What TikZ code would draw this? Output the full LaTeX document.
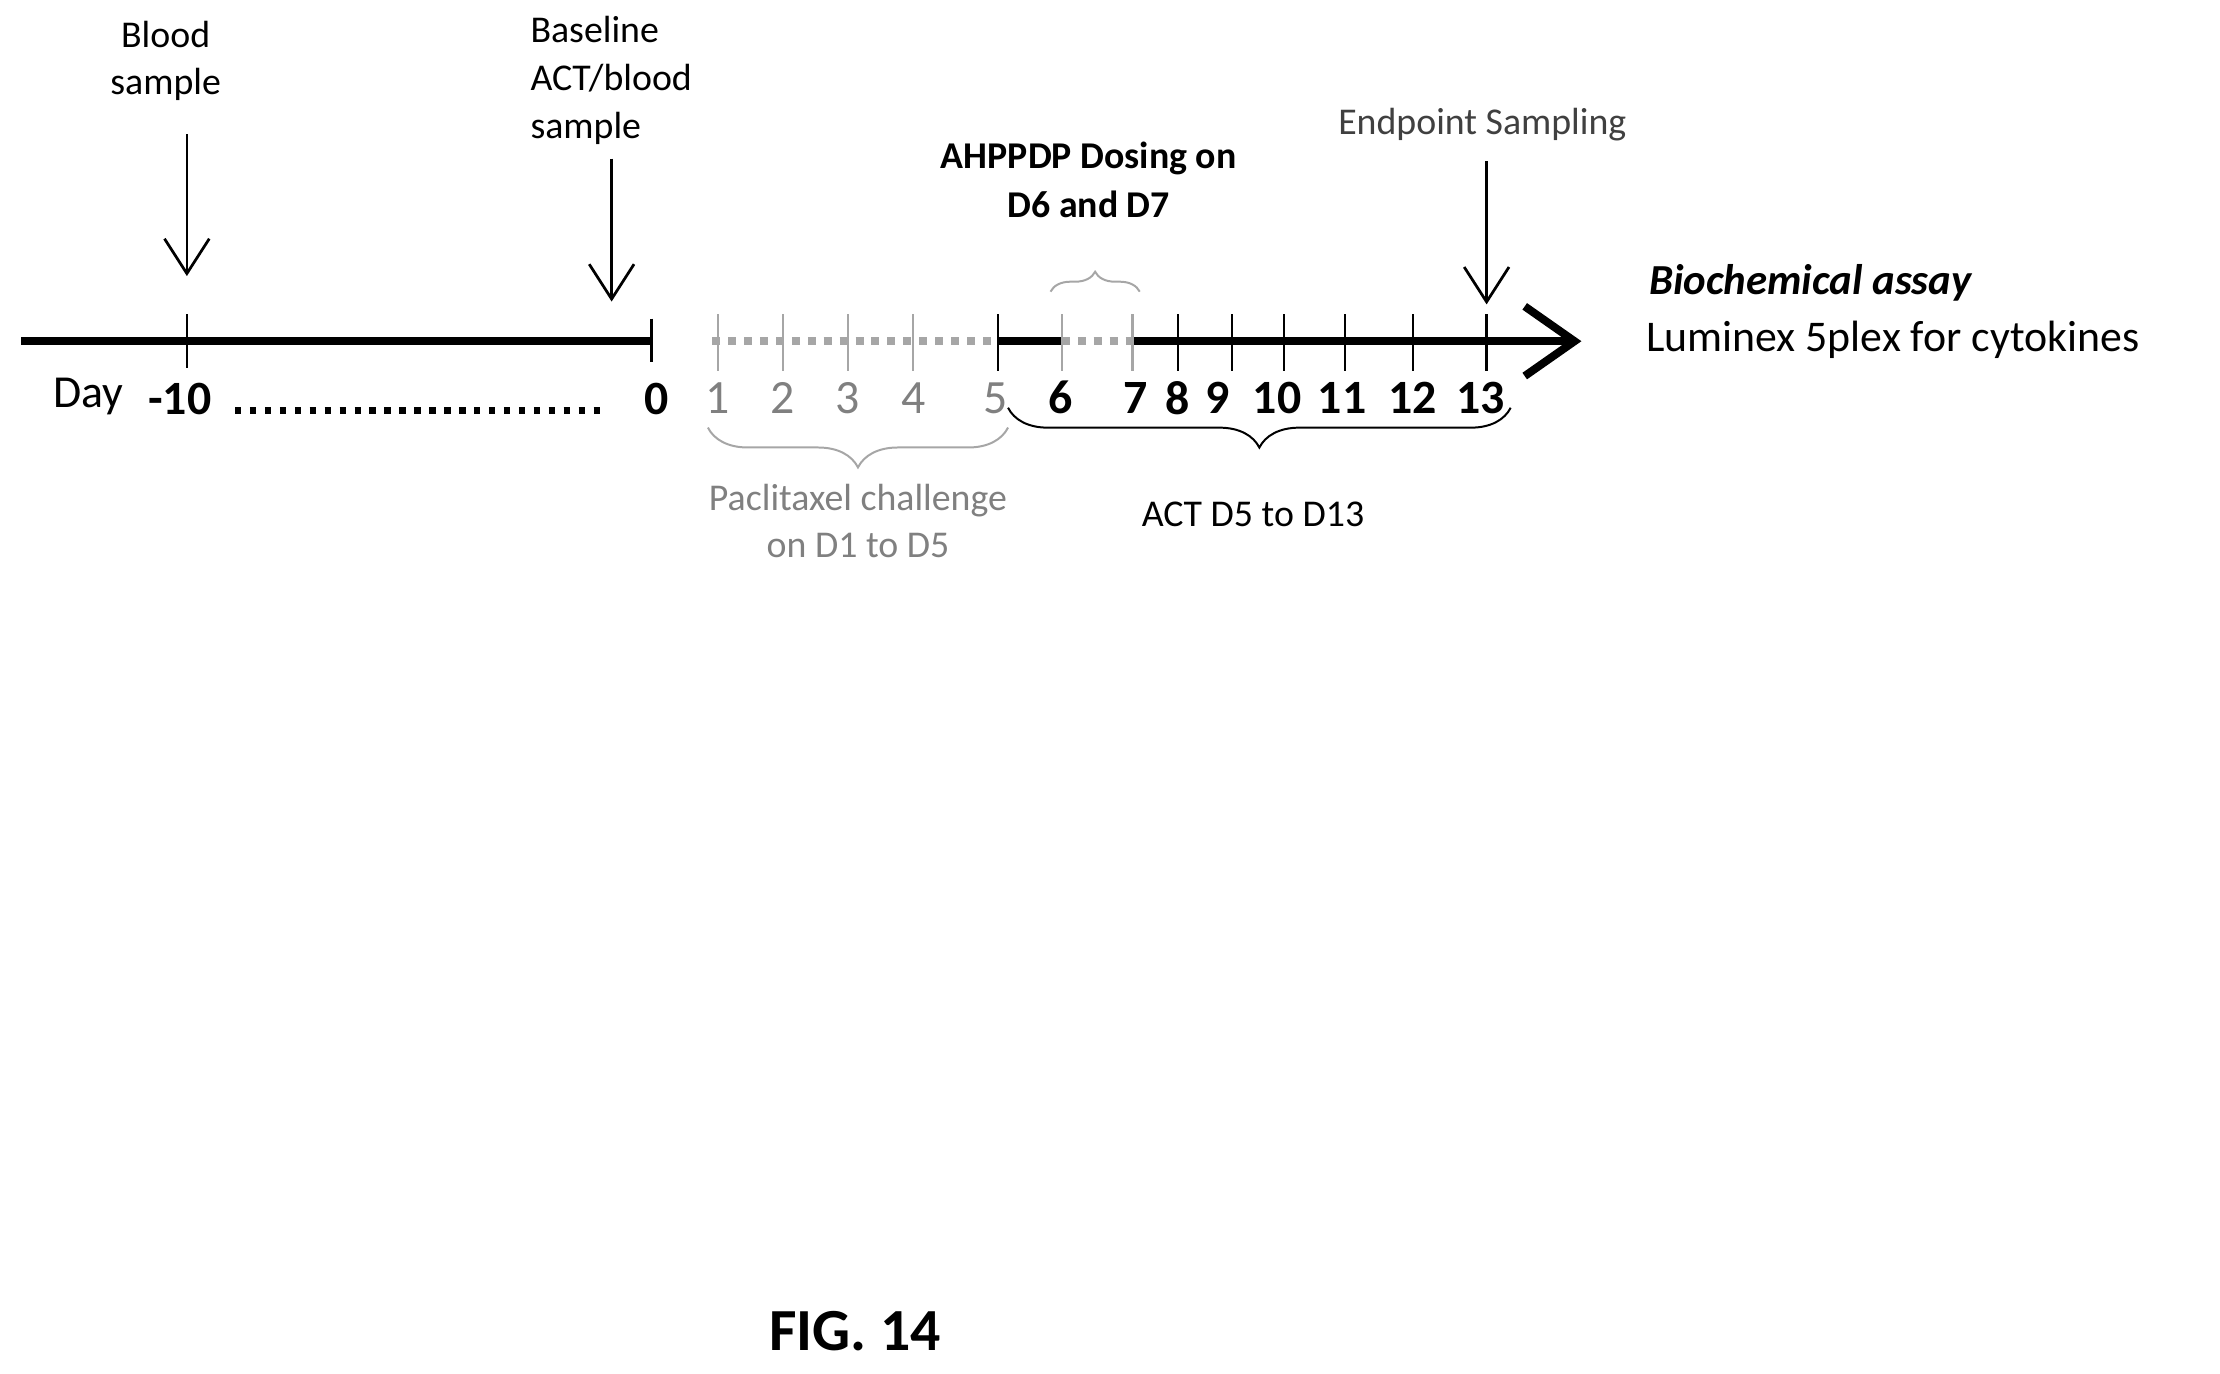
\documentclass[tikz,border=0pt]{standalone}
\usepackage{fontspec}
\setmainfont{Carlito}
\usetikzlibrary{decorations.pathreplacing,arrows.meta}
\begin{document}
\begin{tikzpicture}[x=0.01cm,y=-0.01cm,
  lab/.style={font=\fontsize{7.6}{9.6}\selectfont,inner sep=0,align=center},
  num/.style={font=\fontsize{9.6}{10}\selectfont\bfseries,inner sep=0},
  gnum/.style={font=\fontsize{9.6}{10}\selectfont,text=gray,inner sep=0},
  thick line/.style={line width=1.6pt},
  tk/.style={line width=0.5pt},
  gtk/.style={line width=0.5pt,gray!70},
  dn/.style={-{Straight Barb[length=7pt,width=9pt]},line width=0.55pt},
  gdot/.style={gray!70,line width=1.5pt,dash pattern=on 1.6pt off 1.6pt},
  br/.style={decorate,decoration={brace,amplitude=8pt},line width=0.4pt}]
\useasboundingbox (0,0) rectangle (1568,970);
\coordinate (s) at (15,241);
\coordinate (z) at (460,241);
\coordinate (g0) at (503,241);
\coordinate (d5) at (705,241);
\coordinate (d6) at (750,241);
\coordinate (d7) at (800,241);
\coordinate (e) at (1117,241);
\draw[thick line] (s) -- (z);
\draw[gdot] (g0) -- (d5);
\draw[thick line] (d5) -- (d6);
\draw[gdot] (d6) -- (d7);
\draw[thick line,-{Straight Barb[length=10pt,width=14pt,line width=1.6pt]}] (d7) -- (e);
\draw[tk] (132,222) -- (132,260);
\draw[line width=0.7pt] (460,225) -- (460,256);
\foreach \x in {507,553,599,645,750,800}{\draw[gtk] (\x,222) -- (\x,262);}
\foreach \x in {705,832,870,907,950,998,1050}{\draw[tk] (\x,222) -- (\x,262);}
\coordinate (a1) at (132,95); \coordinate (b1) at (132,195);
\coordinate (a2) at (432,112); \coordinate (b2) at (432,213);
\coordinate (a3) at (1050,114); \coordinate (b3) at (1050,215);
\draw[dn] (a1) -- (b1);
\draw[dn] (a2) -- (b2);
\draw[dn] (a3) -- (b3);
\node[lab] (t1) at (117,43) {Blood\\sample};
\node[lab,anchor=north west,align=left] (t2) at (374,11) {Baseline\\ACT/blood\\sample};
\node[lab,font=\fontsize{7.6}{9.8}\selectfont\bfseries] (t3) at (769,127) {AHPPDP Dosing on\\D6 and D7};
\node[lab,text=black!75] (t4) at (1047,88) {Endpoint Sampling};
\node[lab,anchor=west,font=\fontsize{8.6}{9}\selectfont\bfseries\itshape] (t5) at (1164,200) {Biochemical assay};
\node[lab,anchor=west,font=\fontsize{8.8}{9}\selectfont] (t6) at (1162,240) {Luminex 5plex for cytokines};
\node[inner sep=0,font=\fontsize{9.2}{10}\selectfont,anchor=west] (day) at (37,280) {Day};
\node[num,anchor=west] (m10) at (104,282) {-10};
\coordinate (q1) at (166,290); \coordinate (q2) at (425,290);
\draw[line width=1.3pt,dash pattern=on 1.3pt off 1.7pt] (q1) -- (q2);
\node[num] (n0) at (464,282) {0};
\foreach \x/\n in {507/1,553/2,599/3,645/4,703/5}{\node[gnum] at (\x,281) {\n};}
\foreach \x/\n in {749/6,802/7,832/8,860/9,902/10,948/11,998/12,1046/13}{\node[num] at (\x,281) {\n};}
\draw[br,gray!70] (712,302) -- (500,302);
\draw[br] (1067,288) -- (712,288);
\draw[br,gray!70,decoration={amplitude=4pt}] (742,206) -- (805,206);
\node[lab,text=gray] (p) at (606,368) {Paclitaxel challenge\\on D1 to D5};
\node[lab] (act) at (885,363) {ACT D5 to D13};
\node[inner sep=0,font=\fontsize{12}{13}\selectfont\bfseries] (fig) at (604,940) {FIG. 14};
\end{tikzpicture}
\end{document}
